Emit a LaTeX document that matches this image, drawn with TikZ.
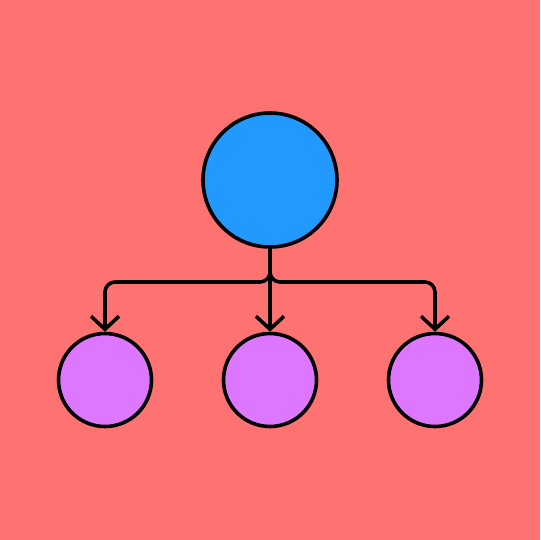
\documentclass[tikz,border=0pt]{standalone}
\usetikzlibrary{arrows.meta}
\definecolor{bg}{RGB}{255,114,114}
\definecolor{topblue}{RGB}{34,153,255}
\definecolor{leafpurple}{RGB}{221,119,255}
\begin{document}
\begin{tikzpicture}[x=1pt,y=-1pt,
  topnode/.style={circle,draw=black,line width=3.6pt,fill=topblue,minimum size=134pt,inner sep=0pt},
  leaf/.style={circle,draw=black,line width=3.6pt,fill=leafpurple,minimum size=93pt,inner sep=0pt},
  link/.style={draw=black,line width=3.6pt,rounded corners=10pt,line cap=round,line join=round,
    -{Straight Barb[length=13pt,width=28pt,line width=3.6pt]}}]
\fill[bg] (0,0) rectangle (540,540);
\useasboundingbox (0,0) rectangle (540,540);
\node[topnode] (top) at (270,180) {};
\node[leaf] (c1) at (105,380) {};
\node[leaf] (c2) at (270,380) {};
\node[leaf] (c3) at (435,380) {};
\coordinate (j) at (270,282);
\draw[link] (top.south) -- (j) -| (c1.north);
\draw[link] (top.south) -- (j) -| (c3.north);
\draw[link] (top.south) -- (c2.north);
\end{tikzpicture}
\end{document}
